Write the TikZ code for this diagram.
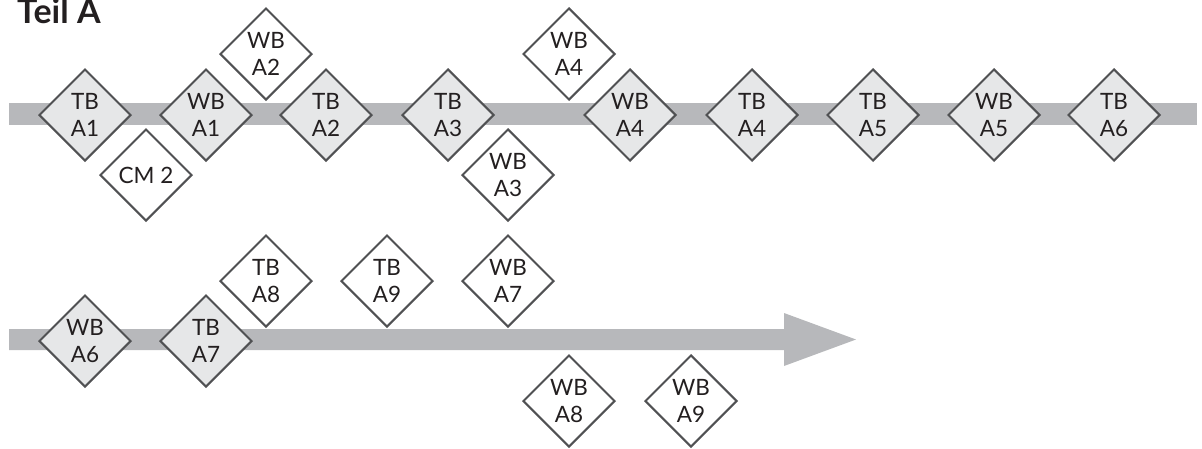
\documentclass[tikz,border=0pt]{standalone}
\usepackage{fontspec}
\setmainfont{Lato}
\usetikzlibrary{shapes.geometric}
\definecolor{band}{HTML}{B7B8BB}
\definecolor{dfill}{HTML}{E6E7E8}
\definecolor{dline}{HTML}{505153}
\definecolor{ink}{HTML}{231F20}
\begin{document}
\begin{tikzpicture}[x=1pt,y=-1pt,
  dia/.style={diamond, draw=dline, line width=2pt, inner sep=0pt,
    minimum width=92, minimum height=92, align=center, text=ink,
    font=\fontsize{22.5}{27}\selectfont},
  on/.style={dia, fill=dfill},
  off/.style={dia, fill=white}]
\useasboundingbox (0,0) rectangle (1202,448);
% bands
\fill[band] (9,103) rectangle (1197,125);
\fill[band] (9,329) -- (784,329) -- (784,313) -- (856,339.5) -- (784,366) -- (784,350) -- (9,350) -- cycle;
% title
\node[anchor=base west, inner sep=0pt, text=ink, font=\bfseries\fontsize{34}{34}\selectfont] (title) at (17,23) {Teil A};
% row 1
\node[on]  (tbA1) at (85,115)   {TB\\A1};
\node[off] (cm2)  at (146,175)  {CM 2};
\node[on]  (wbA1) at (206,115)  {WB\\A1};
\node[off] (wbA2) at (266,54)   {WB\\A2};
\node[on]  (tbA2) at (326,115)  {TB\\A2};
\node[on]  (tbA3) at (448,115)  {TB\\A3};
\node[off] (wbA3) at (508,175)  {WB\\A3};
\node[off] (wbA4u) at (569,54)  {WB\\A4};
\node[on]  (wbA4) at (630,115)  {WB\\A4};
\node[on]  (tbA4) at (752,115)  {TB\\A4};
\node[on]  (tbA5) at (873,115)  {TB\\A5};
\node[on]  (wbA5) at (994,115)  {WB\\A5};
\node[on]  (tbA6) at (1114,115) {TB\\A6};
% row 2
\node[on]  (wbA6) at (85,341)   {WB\\A6};
\node[on]  (tbA7) at (206,341)  {TB\\A7};
\node[off] (tbA8) at (266,281)  {TB\\A8};
\node[off] (tbA9) at (387,281)  {TB\\A9};
\node[off] (wbA7) at (508,281)  {WB\\A7};
\node[off] (wbA8) at (569,401)  {WB\\A8};
\node[off] (wbA9) at (691,401)  {WB\\A9};
\end{tikzpicture}
\end{document}
